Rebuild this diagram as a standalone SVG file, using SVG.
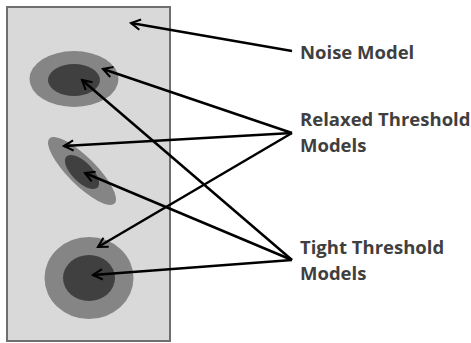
<svg xmlns="http://www.w3.org/2000/svg" width="471" height="343" viewBox="0 0 471 343">
<style>
.panel{fill:#d9d9d9;stroke:#6f6f6f;stroke-width:2}
.outer{fill:#858585}
.inner{fill:#404040}
.conn{stroke:#000;stroke-width:2.5;fill:none;marker-end:url(#arr)}
.lbl{font-family:"Open Sans","Liberation Sans",sans-serif;font-weight:bold;font-size:18.5px;fill:#3f3f3f}
</style>
<defs>
<marker id="arr" viewBox="0 0 12 12" refX="10.5" refY="6" markerWidth="5" markerHeight="5" orient="auto" markerUnits="strokeWidth">
<path d="M1.5,1 L10.5,6 L1.5,11" fill="none" stroke="#000" stroke-width="2" stroke-linejoin="miter"/>
</marker>
</defs>
<rect class="panel" x="7" y="7" width="163" height="334"/>
<g id="model1">
<ellipse class="outer" cx="74" cy="79" rx="44.5" ry="28"/>
<ellipse class="inner" cx="74" cy="80" rx="26" ry="16"/>
</g>
<g id="model2">
<ellipse class="outer" cx="82" cy="171" rx="46" ry="14" transform="rotate(45 82 171)"/>
<ellipse class="inner" cx="82" cy="172" rx="22" ry="10" transform="rotate(45 82 172)"/>
</g>
<g id="model3">
<ellipse class="outer" cx="89" cy="278" rx="44.5" ry="41"/>
<ellipse class="inner" cx="89" cy="278" rx="26" ry="23"/>
</g>
<g id="connectors">
<path class="conn" d="M292,51 L131,23"/>
<path class="conn" d="M292,133 L103,69"/>
<path class="conn" d="M292,133 L64,146"/>
<path class="conn" d="M292,133 L98,247"/>
<path class="conn" d="M292,260 L82,80"/>
<path class="conn" d="M292,260 L85,173"/>
<path class="conn" d="M292,260 L93,275"/>
</g>
<g id="noise-label"><text class="lbl" x="300" y="59">Noise Model</text></g>
<g id="relaxed-label"><text class="lbl" x="300" y="126">Relaxed Threshold</text><text class="lbl" x="300" y="152">Models</text></g>
<g id="tight-label"><text class="lbl" x="300" y="254">Tight Threshold</text><text class="lbl" x="300" y="280">Models</text></g>
</svg>
